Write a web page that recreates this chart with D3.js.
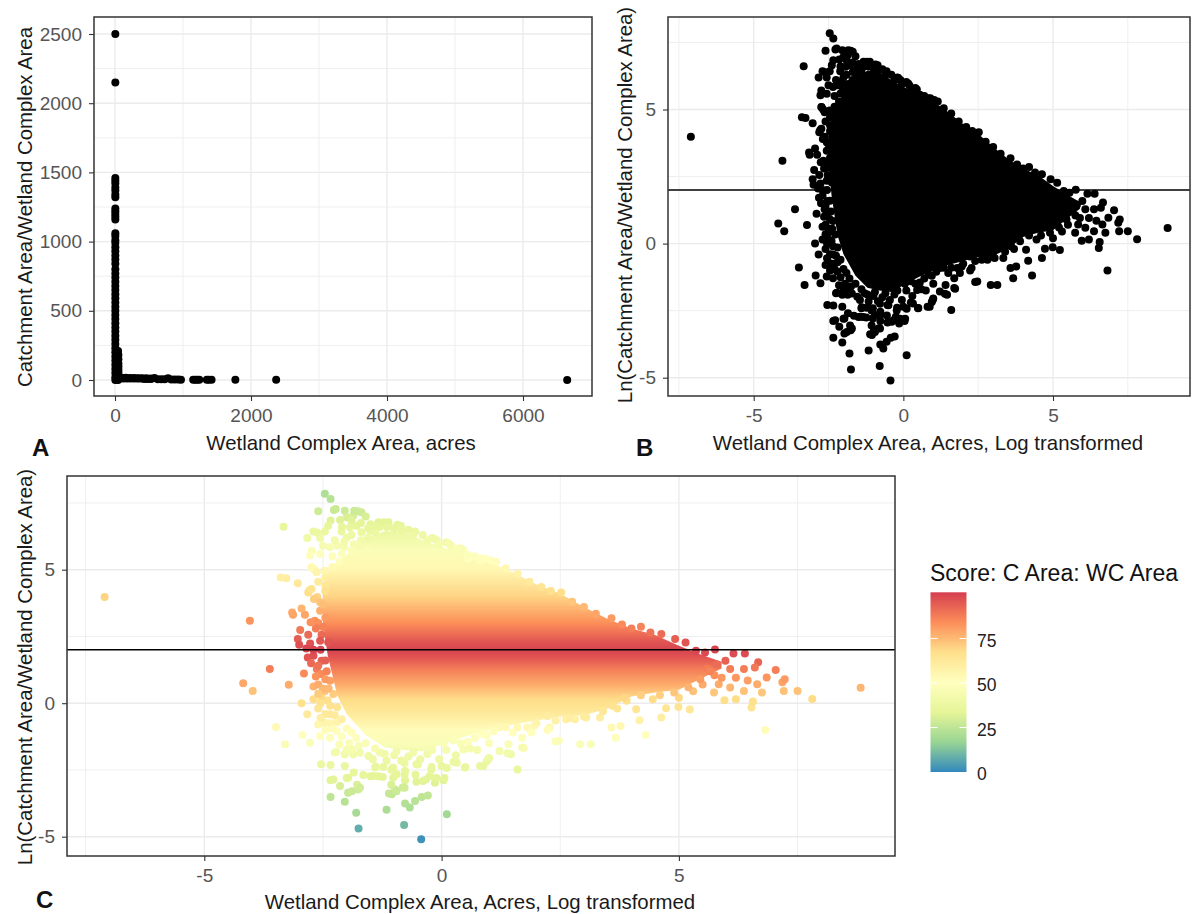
<!DOCTYPE html>
<html>
<head>
<meta charset="utf-8">
<script src="https://cdn.jsdelivr.net/npm/d3@7"></script>
<style>
body { margin: 0; background: #fff; }
svg { display: block; font-family: "Liberation Sans", Arial, sans-serif; }
.axis-title { font-size: 20.4px; fill: #1a1a1a; }
.tick-label { font-size: 19px; fill: #555; }
.panel-tag { font-size: 24px; font-weight: bold; fill: #111; }
</style>
</head>
<body>
<svg width="1193" height="914"></svg>
<script>
// Panel A, raw values
var stemY = [2500, 2150, 1460, 1440, 1420, 1390, 1370, 1340, 1320, 1240, 1220, 1200, 1180, 1160, 1060, 1040, 1010, 990, 960,
    930, 900, 870, 840, 800, 770, 740, 710, 680, 650, 620, 590, 560, 530, 500, 470, 440, 410, 380, 350, 320, 290, 260, 230, 200,
    170, 140, 110, 80, 50, 20, 0];
var baseX = [45, 50, 50, 50, 50, 50, 50, 50, 50, 45];
var baseY = [210, 180, 150, 120, 100, 80, 60, 40, 20, 0];
var tailX = [30, 80, 130, 180, 230, 280, 330, 380, 430, 480, 530, 580, 630, 680, 730, 780, 830, 880, 930, 970,
    1150, 1180, 1210, 1240, 1350, 1380, 1420, 1770, 2370, 6650];
var tailY = [10, 10, 10, 10, 10, 10, 10, 10, 8, 8, 8, 14, 6, 6, 6, 12, 4, 4, 3, 2,
    2, 2, 2, 2, 2, 2, 2, 1, 1, 0];
var tailUpperX = [40, 100, 160, 220, 280, 340, 400, 460, 520];
var tailUpperY = [16, 16, 16, 14, 14, 12, 12, 12, 10];

// Panels B and C, dense middle of the cloud (column, upper edge, lower edge)
var coreX = [-2.5, -2.4, -2.2, -2, -1.6, -1.2, -0.8, -0.4, 0, 0.5, 1, 1.5, 2, 2.5, 3, 3.5, 4, 4.5, 5, 5.5, 5.9];
var coreTop = [4.1, 4.9, 5.3, 5.55, 6.15, 6.45, 6.4, 6.1, 5.85, 5.6, 5.3, 4.9, 4.45, 4.1, 3.6, 3.15, 2.8, 2.55, 2.15, 1.8, 1.55];
var coreBottom = [3, 1.8, 0.3, -0.4, -1.2, -1.65, -1.75, -1.8, -1.55, -1.25, -1, -0.8, -0.65, -0.5, -0.45, -0.2, 0.25, 0.4, 0.5, 0.95, 1.3];

// Panels B and C, single visible points around the cloud
var upperPoints = [[-2.46, 7.84], [-2.34, 7.65], [-2.6, 7.19], [-2.27, 7.24], [-2.04, 7.21], [-1.76, 7.19], [-1.69, 7.15], [-1.6, 6.99],
    [-1.86, 7.03], [-2, 6.96], [-2.14, 6.86], [-2.34, 6.84], [-1.93, 6.59], [-1.79, 6.65], [-2.11, 6.43], [-1.69, 6.4],
    [-3.33, 6.61], [-2.7, 6.43], [-2.46, 6.43], [-2.83, 6.19], [-2.56, 6.19], [-1.33, 6.78], [-1.12, 6.78], [-0.93, 6.68],
    [-0.56, 6.43], [-0.2, 6.19], [0.1, 6.03], [0.28, 5.78], [-2.74, 5.71], [-2.35, 5.84], [-2.77, 5.53], [-2.56, 5.59],
    [-2.2, 5.9], [-2, 6.2], [-1.9, 6.3], [-1.7, 6.1], [-2.3, 5.5], [-1.5, 6.45], [-1.3, 6.6], [-1, 6.55], [-0.7, 6.5], [-0.4, 6.3],
    [-0.1, 6.1], [0.2, 5.9], [0.45, 5.75], [0.7, 5.5], [0.9, 5.42], [1.03, 5.35], [1.15, 5.3], [1.35, 5.05], [1.6, 4.85], [1.85, 4.55],
    [2.1, 4.35], [2.3, 4.2], [2.52, 4.15], [2.75, 3.8], [3, 3.6], [3.25, 3.35], [3.58, 3.18], [3.8, 2.95], [4, 2.8], [4.2, 2.86],
    [4.4, 2.65], [4.63, 2.59], [4.92, 2.4], [5.14, 2.27], [5.36, 1.96], [5.55, 1.9], [5.76, 2.01], [6.15, 1.86], [6.39, 1.86],
    [-2.23, 7.27], [-1.84, 7.21], [-2.39, 6.65], [-2.62, 6.39], [-2.5, 5.9], [-2.73, 5.08], [-2.68, 5], [-2.45, 4.7], [-2.78, 4.23],
    [-2.45, 4.41], [-2.62, 3.98], [-1.22, 6.78], [-0.86, 6.65], [-0.17, 6.17], [0.16, 5.97], [0.4, 5.8], [0.56, 5.42], [0.83, 5.42],
    [-2.1, 6.6], [-1.9, 6.85], [-1.7, 6.75], [-1.5, 6.7], [-2.25, 6.1], [-2.05, 5.85], [-1.85, 5.95], [-1.55, 5.75], [-2.15, 5.3],
    [-2.1, 5.6], [-1.9, 5.7], [-1.75, 5.9], [-1.55, 6.2], [-1.4, 6.4], [-2.05, 6.05], [-1.55, 6.55], [-1.4, 6.65], [-1.15, 6.6],
    [-0.85, 6.5], [-0.6, 6.3], [-0.3, 6.1], [-0.05, 5.95], [0.3, 5.75], [0.55, 5.55], [0.8, 5.35], [-2.6, 4.55], [-2.3, 5.1]];
var leftPoints = [[-2.74, 5.09], [-2.63, 4.9], [-2.46, 4.96], [-3.39, 4.71], [-3.27, 4.68], [-3.03, 4.49], [-2.81, 4.15], [-2.74, 4.28],
    [-2.69, 3.9], [-2.56, 3.78], [-7.1, 3.98], [-4.04, 3.09], [-3.15, 3.4], [-2.95, 3.55], [-3.13, 3.31], [-2.88, 3.31], [-2.56, 3.46],
    [-2.76, 3.03], [-2.67, 3.09], [-2.98, 2.74], [-2.81, 2.56], [-2.53, 2.56], [-3.03, 2.4], [-3, 2.19], [-2.77, 2.24], [-2.56, 2.34],
    [-2.39, 2.28], [-2.82, 1.71], [-2.7, 1.78], [-2.53, 1.59], [-3.62, 1.28], [-2.9, 1.11], [-2.63, 1.28], [-2.53, 1.09],
    [-4.18, 0.75], [-3.98, 0.46], [-3.22, 0.69], [-2.7, 0.63], [-2.35, 0.84], [-2.95, 0], [-2.7, 0.15], [-2.46, 0.46], [-2.53, 0.21],
    [-2.28, 0.34], [-2.83, -0.41], [-3.49, -0.89], [-2.93, -1.19], [-3.3, -1.54], [-2.77, -1.48], [-2.56, -1.23], [-2.46, -0.73],
    [-2.35, -0.41], [-2.35, -1.29], [-2.21, -1.04],
    [-2.6, 3], [-2.45, 3.2], [-2.5, 2.85], [-2.65, 2.8], [-2.85, 2.05], [-2.7, 2], [-2.55, 2], [-2.75, 1.5], [-2.6, 1.4], [-2.45, 1.6],
    [-2.42, 1.2], [-2.65, 1], [-2.45, 0.9], [-2.6, 0.7], [-2.5, 0.55], [-2.38, 0.55], [-2.6, 0.35], [-2.4, 0.1], [-2.55, 0], [-2.35, -0.1],
    [-2.6, -0.2], [-2.45, -0.4], [-2.25, -0.45], [-2.2, -0.15], [-2.55, -0.55], [-2.35, -0.75], [-2.2, -0.7], [-2.1, -0.6], [-2.6, -0.8],
    [-2.45, -1], [-2.3, -0.95], [-2.1, -1.25], [-2, -0.95], [-1.9, -1.1], [-2.15, -1.55], [-1.95, -1.5], [-1.8, -1.3], [-2.5, 3.7], [-2.45, 4.2]];
var lowerPoints = [[-2.25, -1.85], [-2.04, -1.91], [-1.86, -1.91], [-1.54, -1.98], [-2.54, -2.29], [-2.34, -2.31], [-2.04, -2.35],
    [-1.4, -2.41], [-1.23, -2.39], [-0.53, -2.29], [-0.21, -2.39], [0, -2.35], [-2.34, -2.89], [-2.14, -3.1], [-1.97, -2.79],
    [-1.65, -2.69], [-1.44, -2.73], [-1.24, -2.76], [-1.02, -2.79], [-0.77, -2.89], [-0.53, -2.94], [-0.39, -2.91], [-0.25, -2.73],
    [-0.14, -2.98], [0.04, -2.89], [-1.97, -3.35], [-1.76, -3.23], [-1.05, -3.41], [-0.98, -3.23], [-0.82, -3.16], [-2.34, -3.51],
    [-2.04, -3.69], [-1.16, -3.99], [-1.8, -4.1], [-1.75, -4.69], [-0.79, -4.56], [-0.43, -5.1], [0.11, -4.16], [-0.77, -3.76],
    [-0.67, -3.91], [-0.56, -3.66], [-0.42, -3.51], [-0.29, -3.46], [-1.02, -2.41], [-0.95, -2.66], [-1.16, -2.16], [-0.77, -2.54],
    [-1.6, -1.5], [-1.3, -1.85], [-1, -1.95], [-0.7, -2], [-0.3, -1.9], [0.1, -1.75], [0.4, -1.5], [0.7, -1.3], [0.95, -1.2],
    [-1.75, -1.6], [-1.45, -2.1], [-0.85, -2.15], [-0.45, -2.1], [-0.05, -2.1], [0.3, -1.95], [0.6, -1.7], [0.25, -2.2],
    [-2.22, -1.83], [-1.89, -1.74], [-1.72, -1.86], [-2.28, -2.86], [-2, -2.8], [-1.85, -2.6], [-1.78, -3.05], [-1.89, -3.3], [-1.72, -3.17],
    [-1.06, -3.05], [-0.78, -3.17], [-0.95, -3.3], [-1.11, -3.38], [-1.39, -2.37], [-1.5, -2.74], [-1.34, -2.74], [-1.06, -2.49],
    [-0.78, -2.24], [-0.5, -2.3], [-0.22, -2.49], [-0.11, -2.8], [-0.33, -2.86], [-0.55, -2.68], [-0.78, -2.68], [0.06, -2.8], [0.11, -2.43],
    [0.5, -2.4], [0.95, -2.18], [1, -2.05], [-1.4, -1.7], [-1.2, -1.9], [-0.95, -1.8], [-0.6, -1.85], [-0.2, -1.75], [0.05, -1.5], [0.25, -1.4],
    [0.55, -1.45], [0.85, -1.15], [-2, -1.75]];
var rightPoints = [[8.83, 0.58], [7.81, 0.16], [7.5, 0.46], [7.21, 0.46], [7.18, 0.78], [7.23, 0.9], [7.04, 1.24], [6.67, 1.53], [6.6, 1.34],
    [6.37, 1.28], [6.82, -1], [6.53, -0.16], [6.56, 0.06], [6.2, 0.15], [5.96, 0.11], [6.75, 0.4], [6.65, 0.71], [6.85, 0.96], [6.37, 0.46],
    [6.08, 0.59], [5.74, 0.4], [5.84, 0.71], [6.08, 1.28], [5.98, 1.59], [5.6, 1.3], [5.75, 1.05], [6.2, 0.95], [6.45, 0.85], [5.9, 0.95],
    [5.5, 0.7], [5.3, 0.45], [5.23, -0.24], [4.99, -0.14], [4.73, -0.19], [4.63, -0.54], [4.17, -0.64], [4.3, -1.19], [3.77, -0.85],
    [3.58, -0.91], [3.67, -1.29], [3.14, -1.54], [2.92, -1.54], [2.47, -1.41], [1.6, -2.48], [4.1, -0.23], [3.9, 0.09], [4.45, 0.15], [5, 0.2],
    [3.34, -0.54], [3.05, -0.54], [2.81, -0.6], [2.62, -0.6], [2.28, -0.91], [2.23, -0.48], [1.8, -0.91], [1.7, -1.29], [1.41, -1.54],
    [1.7, -1.66], [1.46, -1.91], [1.22, -1.79], [1.22, -0.91], [0.98, -2.1], [0.88, -2.35], [0.81, -2.35], [0.49, -2.41], [0.32, -2.23],
    [0.46, -1.73], [1.95, -0.85], [1.5, -1.1], [1, -1.5], [0.75, -1.75], [3.7, -0.2],
    [1.39, -1.87], [1.73, -1.68], [1.89, -1.1], [2.23, -1], [2.4, -1.43], [1.1, -1.05], [1.35, -0.9], [1.6, -0.9], [2, -0.75], [2.4, -0.65],
    [2.7, -0.55], [3, -0.5], [3.4, -0.3], [3.6, -0.1], [3.85, 0.2], [4.2, 0.3], [4.6, 0.3], [4.9, 0.4], [5.2, 0.6], [5.45, 0.9], [5.65, 1.2], [5.8, 1.45]];
var cloudPoints = upperPoints.concat(leftPoints, lowerPoints, rightPoints);

// colour, score at each height of the cloud
var scoreKnotY = [-5.1, -4.69, -4.1, -3.5, -2.9, -2, -1.5, -1, -0.4, 0.15, 0.7, 1.3, 1.7, 2, 2.3, 3, 3.98, 5, 5.7, 6.4, 7.2, 7.8];
var scoreKnotValue = [2, 8, 20, 25, 33, 40, 47, 52, 62, 68, 78, 88, 96, 100, 96, 84, 70, 55, 47, 38, 28, 22];
var spectral = ["#3288bd", "#99d594", "#e6f598", "#ffffbf", "#fee08b", "#fc8d59", "#d53e4f"];
var legendTicks = [0, 25, 50, 75];
var scoreMax = 101;

var svg = d3.select("svg");
var defs = svg.append("defs");

var scoreOf = d3.scaleLinear().domain(scoreKnotY).range(scoreKnotValue);
var color = d3.scaleLinear()
    .domain(spectral.map(function (d, i) { return i * scoreMax / (spectral.length - 1); }))
    .range(spectral);

function drawPanel(p) {
    var x = d3.scaleLinear().domain(p.xRef).range(p.xPx);
    var y = d3.scaleLinear().domain(p.yRef).range(p.yPx);
    var g = svg.append("g");

    // grid, minor first
    g.selectAll(".minor-x").data(p.xMinor).enter().append("line")
        .attr("x1", x).attr("x2", x).attr("y1", p.top).attr("y2", p.bottom)
        .attr("stroke", "#efefef").attr("stroke-width", 1);
    g.selectAll(".minor-y").data(p.yMinor).enter().append("line")
        .attr("y1", y).attr("y2", y).attr("x1", p.left).attr("x2", p.right)
        .attr("stroke", "#efefef").attr("stroke-width", 1);
    g.selectAll(".major-x").data(p.xTicks).enter().append("line")
        .attr("x1", x).attr("x2", x).attr("y1", p.top).attr("y2", p.bottom)
        .attr("stroke", "#ebebeb").attr("stroke-width", 1.4);
    g.selectAll(".major-y").data(p.yTicks).enter().append("line")
        .attr("y1", y).attr("y2", y).attr("x1", p.left).attr("x2", p.right)
        .attr("stroke", "#ebebeb").attr("stroke-width", 1.4);

    p.marks(g, x, y);

    if (p.refLine !== undefined) {
        g.append("line")
            .attr("x1", p.left).attr("x2", p.right)
            .attr("y1", y(p.refLine)).attr("y2", y(p.refLine))
            .attr("stroke", "#000").attr("stroke-width", 1.5);
    }

    g.append("rect")
        .attr("x", p.left).attr("y", p.top)
        .attr("width", p.right - p.left).attr("height", p.bottom - p.top)
        .attr("fill", "none").attr("stroke", "#333").attr("stroke-width", 1.5);

    var xAxis = g.append("g")
        .attr("transform", "translate(0," + p.bottom + ")")
        .call(d3.axisBottom(x).tickValues(p.xTicks).tickSize(5).tickPadding(8).tickFormat(d3.format("d")));
    var yAxis = g.append("g")
        .attr("transform", "translate(" + p.left + ",0)")
        .call(d3.axisLeft(y).tickValues(p.yTicks).tickSize(5).tickPadding(7).tickFormat(d3.format("d")));
    [xAxis, yAxis].forEach(function (a) {
        a.attr("font-family", null).attr("font-size", null);
        a.select(".domain").remove();
        a.selectAll(".tick line").attr("stroke", "#333").attr("stroke-width", 1.1);
        a.selectAll(".tick text").attr("class", "tick-label").text(function (d) { return String(d); });
    });

    g.append("text").attr("class", "axis-title")
        .attr("text-anchor", "middle")
        .attr("x", p.xTitlePos[0]).attr("y", p.xTitlePos[1])
        .text(p.xTitle);
    g.append("text").attr("class", "axis-title")
        .attr("text-anchor", "middle")
        .attr("transform", "translate(" + p.yTitlePos[0] + "," + p.yTitlePos[1] + ") rotate(-90)")
        .text(p.yTitle);
    g.append("text").attr("class", "panel-tag")
        .attr("x", p.tagPos[0]).attr("y", p.tagPos[1])
        .text(p.tag);
}

function dots(g, data, x, y, fill) {
    g.selectAll(null).data(data).enter().append("circle")
        .attr("cx", function (d) { return x(d[0]); })
        .attr("cy", function (d) { return y(d[1]); })
        .attr("r", 4)
        .attr("fill", fill);
}

function coreArea(x, y) {
    return d3.area()
        .x(function (d) { return x(d); })
        .y0(function (d, i) { return y(coreBottom[i]); })
        .y1(function (d, i) { return y(coreTop[i]); })
        .curve(d3.curveLinear)(coreX);
}

drawPanel({
    left: 94, right: 592, top: 17, bottom: 396,
    xRef: [0, 6000], xPx: [115, 523],
    yRef: [0, 2500], yPx: [380, 34],
    xTicks: [0, 2000, 4000, 6000], xMinor: [1000, 3000, 5000],
    yTicks: [0, 500, 1000, 1500, 2000, 2500], yMinor: [250, 750, 1250, 1750, 2250],
    xTitle: "Wetland Complex Area, acres", xTitlePos: [341, 450],
    yTitle: "Catchment Area/Wetland Complex Area", yTitlePos: [32, 207],
    tag: "A", tagPos: [32, 456],
    marks: function (g, x, y) {
        dots(g, stemY.map(function (d) { return [5, d]; }), x, y, "#000");
        dots(g, baseY.map(function (d, i) { return [baseX[i], d]; }), x, y, "#000");
        dots(g, tailX.map(function (d, i) { return [d, tailY[i]]; }), x, y, "#000");
        dots(g, tailUpperX.map(function (d, i) { return [d, tailUpperY[i]]; }), x, y, "#000");
    }
});

drawPanel({
    left: 668, right: 1190, top: 17, bottom: 396,
    xRef: [-5, 5], xPx: [753.7, 1053],
    yRef: [-5, 5], yPx: [377.7, 109.5],
    xTicks: [-5, 0, 5], xMinor: [-7.5, -2.5, 2.5, 7.5],
    yTicks: [-5, 0, 5], yMinor: [-2.5, 2.5, 7.5],
    refLine: 2,
    xTitle: "Wetland Complex Area, Acres, Log transformed", xTitlePos: [928, 450],
    yTitle: "Ln(Catchment Area/Wetland Complex Area)", yTitlePos: [632, 205],
    tag: "B", tagPos: [636, 456],
    marks: function (g, x, y) {
        g.append("path").attr("d", coreArea(x, y)).attr("fill", "#000");
        dots(g, cloudPoints, x, y, "#000");
    }
});

drawPanel({
    left: 67, right: 895, top: 476, bottom: 856,
    xRef: [-5, 5], xPx: [204.3, 678.9],
    yRef: [-5, 5], yPx: [836.7, 569.7],
    xTicks: [-5, 0, 5], xMinor: [-7.5, -2.5, 2.5, 7.5],
    yTicks: [-5, 0, 5], yMinor: [-2.5, 2.5, 7.5],
    refLine: 2,
    xTitle: "Wetland Complex Area, Acres, Log transformed", xTitlePos: [480, 909],
    yTitle: "Ln(Catchment Area/Wetland Complex Area)", yTitlePos: [32, 667],
    tag: "C", tagPos: [36, 908],
    marks: function (g, x, y) {
        var grad = defs.append("linearGradient").attr("id", "core-fill")
            .attr("gradientUnits", "userSpaceOnUse")
            .attr("x1", 0).attr("x2", 0)
            .attr("y1", y(scoreKnotY[0])).attr("y2", y(scoreKnotY[scoreKnotY.length - 1]));
        var span = scoreKnotY[scoreKnotY.length - 1] - scoreKnotY[0];
        grad.selectAll("stop").data(scoreKnotY).enter().append("stop")
            .attr("offset", function (d) { return (d - scoreKnotY[0]) / span; })
            .attr("stop-color", function (d, i) { return color(scoreKnotValue[i]); });

        g.append("path").attr("d", coreArea(x, y)).attr("fill", "url(#core-fill)");
        dots(g, cloudPoints, x, y, function (d) { return color(scoreOf(d[1])); });
    }
});

// legend
var legendY = d3.scaleLinear().domain([0, scoreMax]).range([772, 592.3]);
var barGrad = defs.append("linearGradient").attr("id", "legend-fill")
    .attr("x1", 0).attr("x2", 0).attr("y1", 1).attr("y2", 0);
barGrad.selectAll("stop").data(spectral).enter().append("stop")
    .attr("offset", function (d, i) { return i / (spectral.length - 1); })
    .attr("stop-color", function (d) { return d; });

var legend = svg.append("g");
legend.append("text")
    .attr("x", 930).attr("y", 581)
    .attr("font-size", 23).attr("fill", "#111")
    .text("Score: C Area: WC Area");
legend.append("rect")
    .attr("x", 930.5).attr("y", legendY(scoreMax))
    .attr("width", 36).attr("height", legendY(0) - legendY(scoreMax))
    .attr("fill", "url(#legend-fill)");
legendTicks.forEach(function (t) {
    if (t > 0) {
        legend.append("line").attr("x1", 930.5).attr("x2", 937.5).attr("y1", legendY(t)).attr("y2", legendY(t))
            .attr("stroke", "#fff").attr("stroke-width", 1);
        legend.append("line").attr("x1", 959.5).attr("x2", 966.5).attr("y1", legendY(t)).attr("y2", legendY(t))
            .attr("stroke", "#fff").attr("stroke-width", 1);
    }
    legend.append("text")
        .attr("x", 977).attr("y", legendY(t) + 8)
        .attr("font-size", 17.5).attr("fill", "#222")
        .text(t);
});
</script>
</body>
</html>
